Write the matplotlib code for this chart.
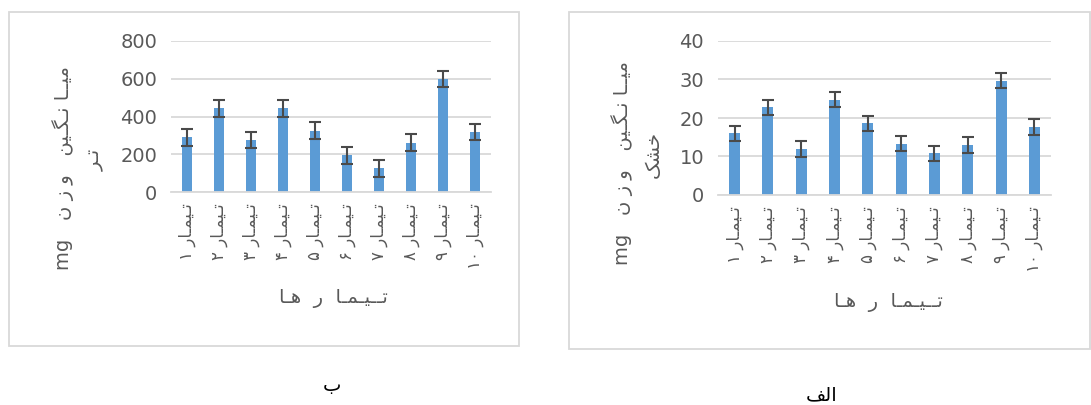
import matplotlib
matplotlib.use("Agg")
import matplotlib.pyplot as plt
from matplotlib.patches import Rectangle

# Persian text written as presentation forms in visual (left-to-right) order,
# with a few kashidas/spaces to mimic the wide spacing of the original
treat_word = "\uFEAD\uFE8E\u0640\uFEE4\uFBFF\u0640\uFE97"          # تیمار
digits = ["۱", "۲", "۳", "۴", "۵", "۶", "۷", "۸", "۹", "۱۰"]
categories = [d + " " + treat_word for d in digits]
xlabel_txt = "\uFE8E\u0640\uFEEB  \uFEAD  \uFE8E\u0640\uFEE4\u0640\uFBFF\u0640\u0640\uFE97"  # تیمارها
ylabel_main = "mg   \uFEE5 \uFEAF \uFEED   \uFEE6\uFBFF\u0640\uFB95\u0640\uFEE7 \uFE8E\u0640\u0640\uFBFF\uFEE3"  # میانگین وزن mg
ylabel_wet = "\uFEAE\u0640\uFE97"          # تر
ylabel_dry = "\uFB8F\uFEB8\uFEA7"    # خشک
caption_wet = "\uFE8F"               # ب
caption_dry = "\uFED2\uFEDF\uFE8D"   # الف

wet_values = [290, 445, 275, 445, 325, 195, 125, 260, 600, 320]
wet_errors = [45, 45, 43, 45, 44, 45, 47, 45, 42, 42]
wet_ticks = [0, 200, 400, 600, 800]

dry_values = [16.0, 22.8, 11.9, 24.8, 18.6, 13.3, 10.8, 13.0, 29.7, 17.7]
dry_errors = [2, 2, 2, 2, 2, 2, 2, 2, 2, 2]
dry_ticks = [0, 10, 20, 30, 40]

plt.rcParams['font.family'] = ['DejaVu Sans']

W, H = 1091, 405
fig = plt.figure(figsize=(W / 100, H / 100), dpi=100)

def px_axes(x0, y_top, x1, y_bot):
    return fig.add_axes([x0 / W, 1 - y_bot / H, (x1 - x0) / W, (y_bot - y_top) / H])

def draw_panel(ax, values, errors, ticks):
    x = range(len(values))
    ax.bar(x, values, width=0.33, color='#5B9BD5', zorder=2,
           yerr=errors, error_kw=dict(ecolor='#4a4a4a', elinewidth=1.5, capsize=4, capthick=1.5))
    ax.set_ylim(ticks[0], ticks[-1])
    ax.set_yticks(ticks)
    ax.set_xlim(-0.5, len(values) - 0.5)
    ax.set_xticks(list(x))
    ax.set_xticklabels(categories, rotation=90, color='#595959')
    ax.yaxis.grid(True, color='#D9D9D9', linewidth=1.3, zorder=0)
    for s in ['top', 'right', 'left']:
        ax.spines[s].set_visible(False)
    ax.spines['bottom'].set_color('#D9D9D9')
    ax.spines['bottom'].set_linewidth(1.3)
    ax.tick_params(axis='both', length=0, labelsize=14, labelcolor='#595959', pad=10)
    ax.tick_params(axis='x', labelsize=12, pad=8)

# panel borders
fig.patches.append(Rectangle((9 / W, 1 - 346 / H), 510 / W, 334 / H, transform=fig.transFigure,
                             fill=False, edgecolor='#D9D9D9', linewidth=1.3))
fig.patches.append(Rectangle((569 / W, 1 - 349 / H), 521 / W, 337 / H, transform=fig.transFigure,
                             fill=False, edgecolor='#D9D9D9', linewidth=1.3))

ax1 = px_axes(171, 41, 491, 192)
draw_panel(ax1, wet_values, wet_errors, wet_ticks)
ax2 = px_axes(718, 41, 1051, 195)
draw_panel(ax2, dry_values, dry_errors, dry_ticks)

txt = dict(color='#595959', ha='center', va='center')
fig.text(63 / W, 1 - 168 / H, ylabel_main, rotation=90, fontsize=14, **txt)
fig.text(95 / W, 1 - 160 / H, ylabel_wet, rotation=90, fontsize=14, **txt)
fig.text(333 / W, 1 - 298 / H, xlabel_txt, fontsize=14, **txt)

fig.text(622 / W, 1 - 163 / H, ylabel_main, rotation=90, fontsize=14, **txt)
fig.text(653 / W, 1 - 155 / H, ylabel_dry, rotation=90, fontsize=14, **txt)
fig.text(888 / W, 1 - 303 / H, xlabel_txt, fontsize=14, **txt)

fig.text(332 / W, 1 - 385 / H, caption_wet, fontsize=14, color='black', ha='center', va='center')
fig.text(822 / W, 1 - 395 / H, caption_dry, fontsize=14, color='black', ha='center', va='center')

fig.savefig('out.png', dpi=100)
